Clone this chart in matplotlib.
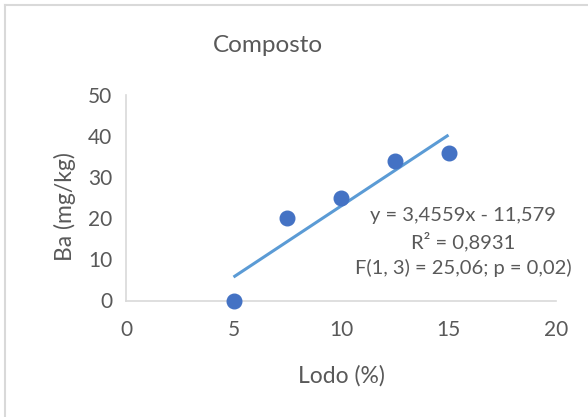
import numpy as np
import matplotlib.pyplot as plt
from matplotlib.lines import Line2D

plt.rcParams.update({
    "font.family": ["Lato", "DejaVu Sans"],
})

# Data
lodo = [5, 7.5, 10, 12.5, 15]
ba = [0, 20, 25, 34, 36]
slope = 3.4559
intercept = -11.579
x_ticks = [0, 5, 10, 15, 20]
y_ticks = [0, 10, 20, 30, 40, 50]
eq_text = "y = 3,4559x - 11,579\nR² = 0,8931\nF(1, 3) = 25,06; p = 0,02)"

grey = "#595959"

fig = plt.figure(figsize=(5.88, 4.17), dpi=100)
ax = fig.add_axes([126/588, 1 - 300.5/417, 430/588, 205.5/417])

# trendline over data range
xt = np.array([min(lodo), max(lodo)])
ax.plot(xt, slope * xt + intercept, color="#5B9BD5", linewidth=2.2,
        solid_capstyle="butt", zorder=2)
ax.plot(lodo, ba, "o", color="#4472C4", markersize=10.5, zorder=3,
        clip_on=False)

ax.set_xlim(0, 20)
ax.set_ylim(0, 50)
ax.set_xticks(x_ticks)
ax.set_yticks(y_ticks)
ax.tick_params(length=0, labelsize=15, labelcolor=grey, pad=14)
ax.tick_params(axis="y", pad=10)
for s in ["top", "right"]:
    ax.spines[s].set_visible(False)
for s in ["left", "bottom"]:
    ax.spines[s].set_color("#D9D9D9")
    ax.spines[s].set_linewidth(1.2)

ax.set_xlabel("Lodo (%)", fontsize=16.5, color=grey, labelpad=18)
ax.set_ylabel("Ba (mg/kg)", fontsize=16.5, color=grey)
ax.yaxis.set_label_coords(-50/430, 0.455)
fig.text(267.5/588, 1 - 45/417, "Composto", ha="center", va="center",
         fontsize=17.5, color=grey)

ax.text(463, 417 - 242, eq_text, transform=None, ha="center", va="center",
        fontsize=14.5, color=grey, linespacing=1.5)

# chart border (left and top visible)
fig.add_artist(Line2D([5/588, 5/588], [0, 1 - 5/417], transform=fig.transFigure,
                      color="#D9D9D9", linewidth=1.5))
fig.add_artist(Line2D([5/588, 1], [1 - 5/417, 1 - 5/417], transform=fig.transFigure,
                      color="#D9D9D9", linewidth=1.5))

fig.savefig("out.png", dpi=100, facecolor="white")
plt.close(fig)
